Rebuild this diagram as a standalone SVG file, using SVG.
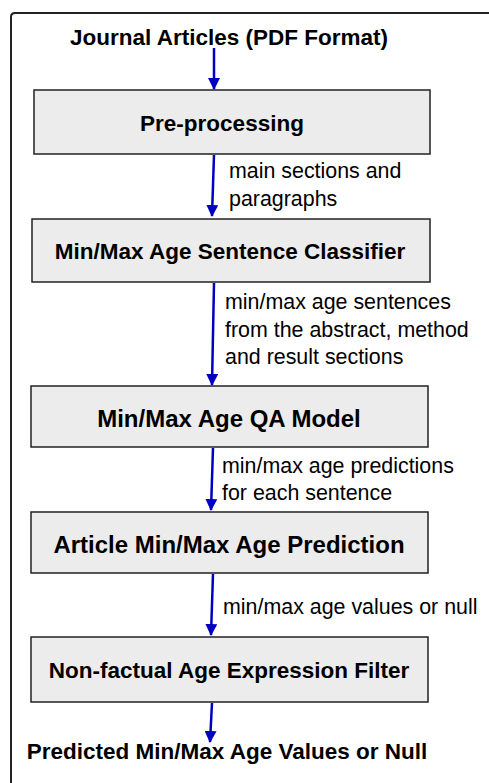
<svg xmlns="http://www.w3.org/2000/svg" width="489" height="783" viewBox="0 0 489 783">
<style>
.box{fill:#ececec;stroke:#222;stroke-width:1.5}
.t{font-family:"Liberation Sans",Arial,sans-serif;font-weight:bold;font-size:22.5px;fill:#000;text-anchor:middle}
.big{font-size:24px}
.l{font-family:"Liberation Sans",Arial,sans-serif;font-size:21.4px;fill:#000}
.c{stroke:#0000c0;stroke-width:2.5;fill:none;marker-end:url(#ah)}
</style>
<defs>
<marker id="ah" markerWidth="12" markerHeight="12" viewBox="0 0 12 12" refX="11" refY="6" orient="auto" markerUnits="userSpaceOnUse">
<path d="M0,0 L12,6 L0,12 z" fill="#0000c0"/>
</marker>
</defs>
<rect width="489" height="783" fill="#fff"/>
<path d="M11,800 L11,17 Q11,13 15,13 L500,13" fill="none" stroke="#222" stroke-width="2"/>
<g id="input"><text class="t" x="229" y="45">Journal Articles (PDF Format)</text></g>
<g id="preprocessing"><rect class="box" x="34" y="90" width="396" height="64"/><text class="t" x="222" y="131">Pre-processing</text></g>
<g id="classifier"><rect class="box" x="32" y="219" width="398" height="63"/><text class="t" x="230" y="259">Min/Max Age Sentence Classifier</text></g>
<g id="qa"><rect class="box" x="31" y="386" width="397" height="61"/><text class="t big" x="229" y="427">Min/Max Age QA Model</text></g>
<g id="article"><rect class="box" x="31" y="512" width="397" height="61"/><text class="t big" x="229" y="553">Article Min/Max Age Prediction</text></g>
<g id="filter"><rect class="box" x="31" y="637" width="397" height="65"/><text class="t" x="229" y="678">Non-factual Age Expression Filter</text></g>
<g id="output"><text class="t" x="227" y="759">Predicted Min/Max Age Values or Null</text></g>
<g id="connectors">
<line class="c" x1="214" y1="48" x2="214" y2="89"/>
<line class="c" x1="214" y1="155" x2="212" y2="216"/>
<line class="c" x1="214" y1="283" x2="212" y2="385"/>
<line class="c" x1="213" y1="448" x2="211" y2="510"/>
<line class="c" x1="213" y1="574" x2="211" y2="635"/>
<line class="c" x1="212" y1="703" x2="210" y2="742"/>
<text class="l" x="229" y="178">main sections and</text>
<text class="l" x="229" y="206">paragraphs</text>
<text class="l" x="225" y="309">min/max age sentences</text>
<text class="l" x="225" y="337">from the abstract, method</text>
<text class="l" x="225" y="364">and result sections</text>
<text class="l" x="222" y="473">min/max age predictions</text>
<text class="l" x="222" y="500">for each sentence</text>
<text class="l" x="223" y="614">min/max age values or null</text>
</g>
</svg>
